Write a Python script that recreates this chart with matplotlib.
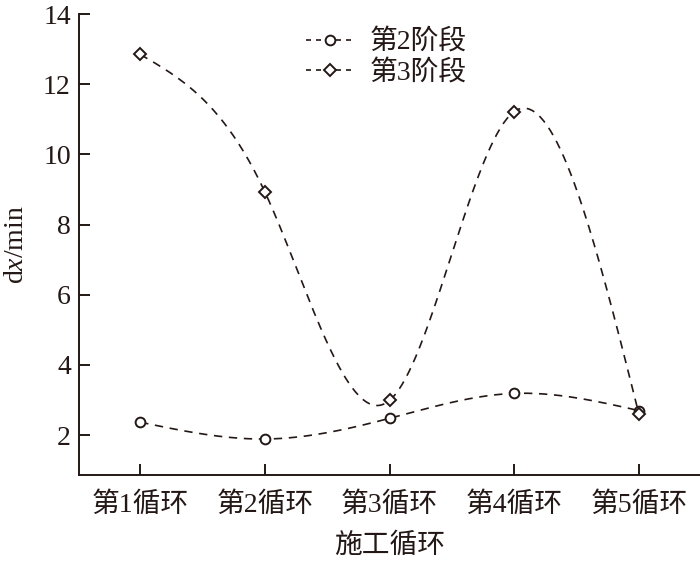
import numpy as np
import matplotlib
matplotlib.use("Agg")
import matplotlib.pyplot as plt

categories = ["第1循环", "第2循环", "第3循环", "第4循环", "第5循环"]
stage2 = [2.37, 1.89, 2.48, 3.19, 2.70]
stage3 = [12.85, 8.93, 2.99, 11.22, 2.60]
series_names = ["第2阶段", "第3阶段"]
yticks = [2, 4, 6, 8, 10, 12, 14]

INK = "#231815"
FAM = ["Liberation Serif", "Noto Sans CJK SC"]
plt.rcParams["font.family"] = FAM
plt.rcParams["mathtext.fontset"] = "custom"
plt.rcParams["mathtext.rm"] = "Liberation Serif"
plt.rcParams["mathtext.it"] = "Liberation Serif:italic"


def natural_spline(x, y, n=300):
    x = np.asarray(x, float); y = np.asarray(y, float)
    k = len(x); h = np.diff(x)
    A = np.zeros((k, k)); b = np.zeros(k)
    A[0, 0] = A[-1, -1] = 1
    for i in range(1, k - 1):
        A[i, i - 1] = h[i - 1]; A[i, i] = 2 * (h[i - 1] + h[i]); A[i, i + 1] = h[i]
        b[i] = 6 * ((y[i + 1] - y[i]) / h[i] - (y[i] - y[i - 1]) / h[i - 1])
    M = np.linalg.solve(A, b)
    xs = np.linspace(x[0], x[-1], n); ys = np.empty_like(xs)
    for j, t in enumerate(xs):
        i = min(np.searchsorted(x, t, side="right") - 1, k - 2)
        a = x[i + 1] - t; c = t - x[i]
        ys[j] = (M[i] * a**3 + M[i + 1] * c**3) / (6 * h[i]) + (y[i] / h[i] - M[i] * h[i] / 6) * a + (y[i + 1] / h[i] - M[i + 1] * h[i] / 6) * c
    return xs, ys


fig = plt.figure(figsize=(7.0, 5.61), dpi=100)
ax = fig.add_axes([0.113, 0.153, 0.887, 0.822])
x = np.arange(len(categories))
dash = (0, (5, 4))
for vals, mk, name, ms in [(stage2, "o", series_names[0], 7), (stage3, "D", series_names[1], 6)]:
    xs, ys = natural_spline(x, vals)
    ax.plot(xs, ys, color=INK, lw=1.2, linestyle=dash)
    ax.plot(x, vals, linestyle="none", marker=mk, ms=ms, mfc="white", mec=INK, mew=1.4)
    ax.plot([], [], color=INK, lw=1.2, linestyle=(0, (3, 3)), marker=mk, ms=ms, mfc="white", mec=INK, mew=1.4, label=name)

ax.set_xlim(-0.49, 4.49)
ax.set_ylim(0.86, 14)
ax.set_xticks(x)
ax.set_xticklabels(categories)
ax.set_yticks(yticks)
for s in ["top", "right"]:
    ax.spines[s].set_visible(False)
for s in ["left", "bottom"]:
    ax.spines[s].set_color(INK)
    ax.spines[s].set_linewidth(1.4)
ax.tick_params(direction="in", length=8, width=1.4, color=INK, labelcolor=INK, labelsize=20)
ax.tick_params(axis="x", pad=12)
ax.tick_params(axis="y", pad=6)
ax.set_xlabel("施工循环", fontsize=20, color=INK, labelpad=11)
ax.set_ylabel("d$\\it{x}$/min", fontsize=20, color=INK, labelpad=10)
leg = ax.legend(loc="upper left", bbox_to_anchor=(0.325, 1.02), frameon=False, fontsize=20,
                handlelength=1.7, handletextpad=0.6, labelspacing=0.15, labelcolor=INK)
fig.savefig("out.png", dpi=100)
